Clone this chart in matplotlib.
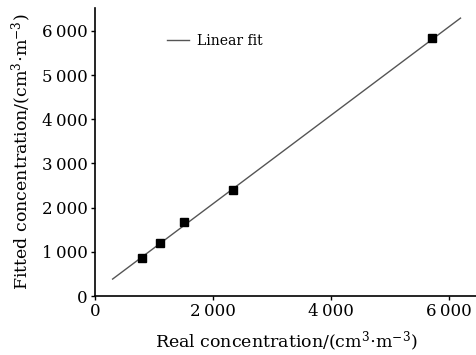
import numpy as np
import matplotlib.pyplot as plt
from matplotlib.ticker import FuncFormatter

# Measured points (real vs fitted concentration)
real_conc = [800, 1100, 1510, 2340, 5710]
fitted_conc = [860, 1200, 1675, 2400, 5840]

# Linear fit line end points
fit_x = [300, 6200]
fit_y = [385, 6290]

x_ticks = [0, 2000, 4000, 6000]
y_ticks = [0, 1000, 2000, 3000, 4000, 5000, 6000]


def thin_sep(v, pos):
    return f"{int(v):,}".replace(",", "\u2009")


if __name__ == '__main__':
    plt.rcParams['font.family'] = ['DejaVu Serif']
    plt.rcParams['mathtext.fontset'] = 'dejavuserif'

    fig = plt.figure(figsize=(4.77, 3.55), dpi=100)
    ax = fig.add_axes([0.199, 0.166, 0.801, 0.811])

    ax.plot(fit_x, fit_y, color="#555555", lw=1.0, label="Linear fit")
    ax.plot(real_conc, fitted_conc, ls="none", marker="s", ms=6, color="black")

    ax.set_xlim(0, 6480)
    ax.set_ylim(0, 6515)
    ax.set_xticks(x_ticks)
    ax.set_yticks(y_ticks)
    ax.xaxis.set_major_formatter(FuncFormatter(thin_sep))
    ax.yaxis.set_major_formatter(FuncFormatter(thin_sep))
    ax.tick_params(direction="out", length=3, width=1, labelsize=12, pad=2)

    ax.spines["top"].set_visible(False)
    ax.spines["right"].set_visible(False)
    for s in ["left", "bottom"]:
        ax.spines[s].set_linewidth(1.2)

    ax.set_xlabel(r"Real concentration/(cm$^3$$\cdot$m$^{-3}$)", fontsize=12.5, labelpad=7)
    ax.set_ylabel(r"Fitted concentration/(cm$^3$$\cdot$m$^{-3}$)", fontsize=12.5, labelpad=6)

    ax.legend(loc="upper left", bbox_to_anchor=(0.155, 0.955), frameon=False,
              fontsize=10, handlelength=1.6, handletextpad=0.6)

    plt.savefig("out.png", dpi=100)
